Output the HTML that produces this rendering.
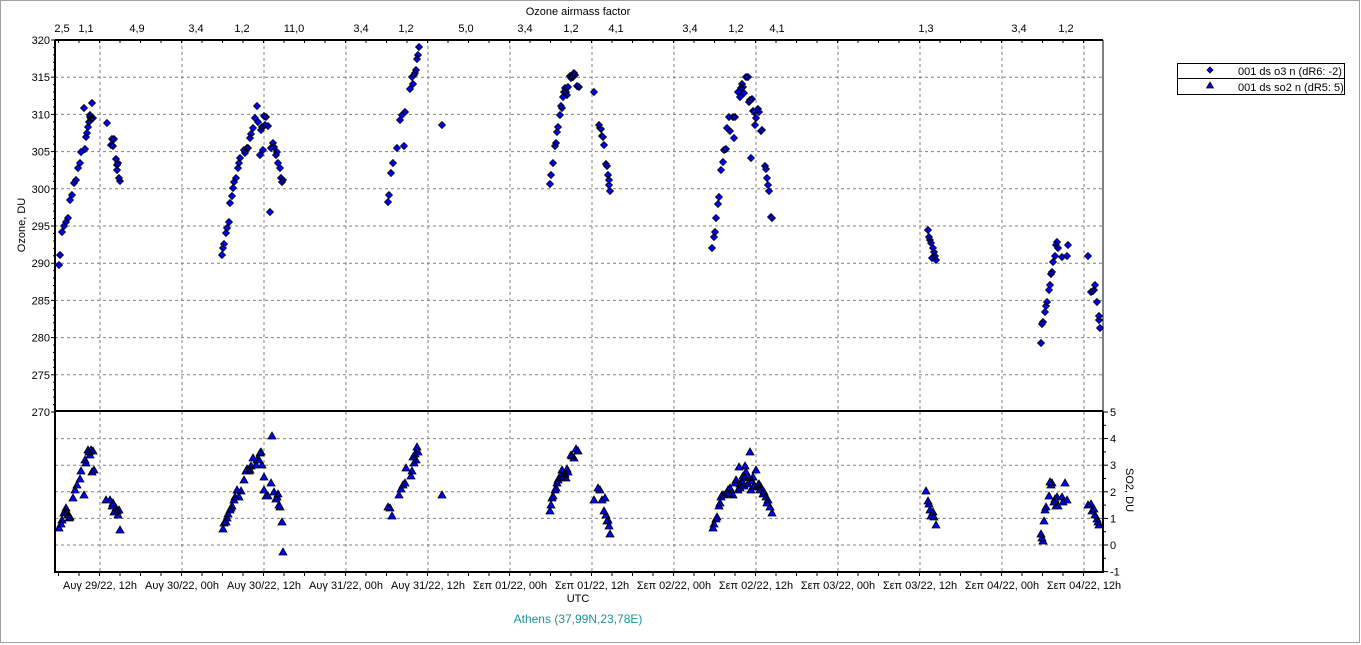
<!DOCTYPE html>
<html><head><meta charset="utf-8"><style>
html,body{margin:0;padding:0;background:#fff;}
svg{display:block;font-family:"Liberation Sans",sans-serif;}
</style></head><body>
<svg id="s" width="1361" height="645" xmlns="http://www.w3.org/2000/svg">
<rect x="0.5" y="0.5" width="1359" height="642" fill="#fff" stroke="#a0a0a0"/>
<g id="grid" stroke="#808080" stroke-dasharray="3,3" stroke-width="1"></g>
<g id="axes"></g>
<g id="pts"></g>
<g font-size="11" fill="#000">
<text x="578" y="15" text-anchor="middle">Ozone airmass factor</text>
<text x="578" y="602" text-anchor="middle">UTC</text>
<text x="578" y="623" text-anchor="middle" fill="#20909a" font-size="12">Athens (37,99N,23,78E)</text>
<text transform="translate(25,225) rotate(-90)" text-anchor="middle">Ozone, DU</text>
<text transform="translate(1126,490) rotate(90)" text-anchor="middle">SO2, DU</text>
</g>
<g id="lab" font-size="11"></g>
<rect x="1177.5" y="63.5" width="167" height="31" fill="#fff" stroke="#000"/>
<line x1="1177" y1="78.5" x2="1345" y2="78.5" stroke="#000"/>
<path d="M1210,67 l3,3 -3,3 -3,-3z" fill="#0000ff" stroke="#000" stroke-width="0.8"/>
<path d="M1210,82 l3.5,6 h-7z" fill="#0000ff" stroke="#000" stroke-width="0.8"/>
<text x="1238" y="75" font-size="11">001 ds o3  n (dR6: -2)</text>
<text x="1238" y="91" font-size="11">001 ds so2 n (dR5: 5)</text>
</svg>
<script>
var NS="http://www.w3.org/2000/svg";
function el(p,t,a,txt){var e=document.createElementNS(NS,t);for(var k in a)e.setAttribute(k,a[k]);if(txt!==undefined)e.textContent=txt;document.getElementById(p).appendChild(e);return e;}
var L=55,R=1103,T=40,B=572,M=411;
// vertical grid
for(var i=0;i<13;i++){var x=100+i*82;el('grid','line',{x1:x,y1:T,x2:x,y2:B});}
// ozone horiz grid
for(var v=275;v<=315;v+=5){var y=40+(320-v)*7.44;el('grid','line',{x1:L,y1:y,x2:R,y2:y});}
for(var s=0;s<=4;s++){var y=545-s*26.6;el('grid','line',{x1:L,y1:y,x2:R,y2:y});}
// axes
el('axes','line',{x1:L,y1:T,x2:L,y2:B+1,stroke:'#000','stroke-width':2});
el('axes','line',{x1:L-1,y1:B,x2:R+1,y2:B,stroke:'#000','stroke-width':2});
el('axes','line',{x1:L,y1:T,x2:R,y2:T,stroke:'#000','stroke-width':2});
el('axes','line',{x1:L,y1:M,x2:R,y2:M,stroke:'#000','stroke-width':2});
el('axes','line',{x1:R,y1:T,x2:R,y2:M,stroke:'#000','stroke-width':1});
el('axes','line',{x1:R,y1:M,x2:R,y2:B,stroke:'#000','stroke-width':2});
// left ticks
for(var v=270;v<=320;v+=5){var y=40+(320-v)*7.44;el('axes','line',{x1:L-4,y1:y,x2:L,y2:y,stroke:'#000'});el('lab','text',{x:L-5,y:y+4,'text-anchor':'end'},v);}
for(var v=271;v<320;v++){if(v%5){var y=40+(320-v)*7.44;el('axes','line',{x1:L-2,y1:y,x2:L,y2:y,stroke:'#000'});}}
// right ticks
for(var s=-1;s<=5;s++){var y=545-s*26.6;el('axes','line',{x1:R,y1:y,x2:R+5,y2:y,stroke:'#000'});el('lab','text',{x:R+7,y:y+4},s);}
for(var s=-1;s<5;s++){var y=545-(s+0.5)*26.6;el('axes','line',{x1:R,y1:y,x2:R+3,y2:y,stroke:'#000'});}
// bottom ticks & labels
for(var x=58.5;x<R;x+=20.5){el('axes','line',{x1:x,y1:B,x2:x,y2:B+4,stroke:'#000'});el('axes','line',{x1:x,y1:T,x2:x,y2:T+3,stroke:'#000'});}
var bl=["Αυγ 29/22, 12h","Αυγ 30/22, 00h","Αυγ 30/22, 12h","Αυγ 31/22, 00h","Αυγ 31/22, 12h","Σεπ 01/22, 00h","Σεπ 01/22, 12h","Σεπ 02/22, 00h","Σεπ 02/22, 12h","Σεπ 03/22, 00h","Σεπ 03/22, 12h","Σεπ 04/22, 00h","Σεπ 04/22, 12h"];
bl.forEach(function(t,i){el('lab','text',{x:100+i*82,y:589,'text-anchor':'middle'},t.replace('Σεπ','Σεπ'));});
var tl=[[62,"2,5"],[86,"1,1"],[137,"4,9"],[196,"3,4"],[242,"1,2"],[294,"11,0"],[361,"3,4"],[406,"1,2"],[466,"5,0"],[525,"3,4"],[571,"1,2"],[616,"4,1"],[690,"3,4"],[736,"1,2"],[777,"4,1"],[926,"1,3"],[1019,"3,4"],[1066,"1,2"]];
tl.forEach(function(a){el('lab','text',{x:a[0],y:32,'text-anchor':'middle'},a[1]);});
var O=[59,265,60,255,62,232,64,226,66,222,68,218,70,200,72,195,74,183,76,180,78,168,80,163,81,152,84,108,85,149,86,137,87,133,88,127,89,122,90,115,91,119,92,103,93,118,90,117,
107,123,111,145,112,139,113,146,114,139,116,159,117,165,118,163,117,170,119,178,120,181,
222,255,223,248,224,244,226,233,227,228,229,222,230,203,232,196,233,188,234,182,236,178,238,168,239,163,240,158,244,150,245,153,247,148,248,148,250,138,251,134,253,128,255,118,257,106,258,122,260,155,261,130,262,127,263,150,264,116,265,125,266,117,268,126,270,212,271,148,273,143,274,147,276,155,277,152,278,163,280,168,281,178,282,182,283,180,
388,202,389,195,391,173,393,163,397,148,400,120,402,115,404,146,405,112,410,89,412,77,413,84,414,75,415,73,416,70,417,59,418,55,419,47,442,125,
550,184,551,175,553,163,555,146,556,143,557,132,558,127,560,115,561,106,562,108,563,97,564,92,565,88,566,92,567,95,568,87,570,76,571,78,572,76,573,77,574,73,575,75,577,86,579,87,594,92,599,125,600,128,601,129,602,136,603,137,604,145,606,164,607,166,608,175,609,180,609,185,610,191,
712,248,714,237,715,232,716,218,718,204,719,197,721,170,723,162,724,150,726,149,727,128,729,117,730,131,733,117,734,138,735,117,738,92,740,97,741,88,742,84,743,87,744,93,746,77,748,77,749,102,750,100,751,158,752,99,753,111,754,112,755,125,756,118,758,109,759,112,761,131,762,130,765,166,766,169,767,178,768,185,769,191,771,217,772,218,
928,230,929,237,930,240,931,243,933,248,934,252,935,256,936,260,932,258,
1041,343,1042,324,1043,322,1045,312,1046,306,1047,302,1049,290,1050,285,1051,274,1052,272,1053,262,1055,256,1056,245,1057,242,1058,248,1062,257,1067,256,1068,245,1088,256,1095,285,1094,290,1091,292,1093,291,1097,302,1099,316,1099,320,1100,328];
var S=[59,528,61,524,62,520,64,513,65,511,66,508,67,512,68,515,69,518,70,517,73,498,75,490,77,485,80,479,81,471,84,495,85,460,86,463,88,450,89,452,90,455,91,450,92,472,93,451,94,470,
106,500,110,500,112,506,113,503,114,512,116,508,118,515,119,510,120,530,117,511,
223,529,224,523,226,522,227,518,228,514,230,510,231,508,232,506,234,500,235,497,237,490,239,497,241,491,244,480,246,471,247,469,249,471,250,470,251,466,253,458,256,465,257,460,259,460,260,453,261,452,262,465,264,477,264,490,266,496,268,496,271,483,272,436,274,492,276,499,277,497,278,494,279,505,280,507,282,522,283,552,
388,507,390,508,392,516,399,495,401,489,403,485,405,483,406,468,411,476,412,471,413,457,414,463,415,454,416,460,417,447,418,452,442,495,
550,511,551,505,552,498,553,496,555,490,556,488,557,483,558,480,559,478,561,476,562,470,564,477,565,474,566,478,567,469,568,472,571,455,572,456,574,458,576,449,578,451,594,500,598,488,600,490,602,500,605,498,604,511,606,515,608,520,607,521,610,534,609,526,
713,528,714,524,716,519,717,517,719,506,720,503,721,497,722,495,724,495,727,493,728,490,729,494,730,488,733,495,735,483,736,480,738,490,739,467,740,488,742,481,743,476,744,486,745,477,746,472,748,484,749,478,750,452,751,490,752,481,753,477,754,486,756,470,758,485,759,484,760,490,761,487,763,494,764,492,766,497,767,503,768,500,770,507,772,513,745,466,740,484,757,487,
926,491,928,501,929,504,930,510,931,516,933,512,934,517,936,525,
1041,534,1042,538,1043,541,1044,521,1045,510,1046,507,1049,496,1050,482,1051,485,1052,483,1054,502,1055,499,1056,506,1057,497,1058,506,1062,497,1063,502,1065,483,1067,500,1088,505,1091,504,1092,511,1094,509,1095,515,1097,519,1098,522,1099,525];
var d="";for(var i=0;i<O.length;i+=2){d+="M"+O[i]+","+(O[i+1]-3.5)+"l3.5,3.5 -3.5,3.5 -3.5,-3.5z";}
el('pts','path',{d:d,fill:'#0000ff',stroke:'#000','stroke-width':0.8});
var t="";for(var i=0;i<S.length;i+=2){t+="M"+S[i]+","+(S[i+1]-4)+"l4,7 h-8z";}
el('pts','path',{d:t,fill:'#0000ff',stroke:'#000','stroke-width':0.8});
</script>
</body></html>
